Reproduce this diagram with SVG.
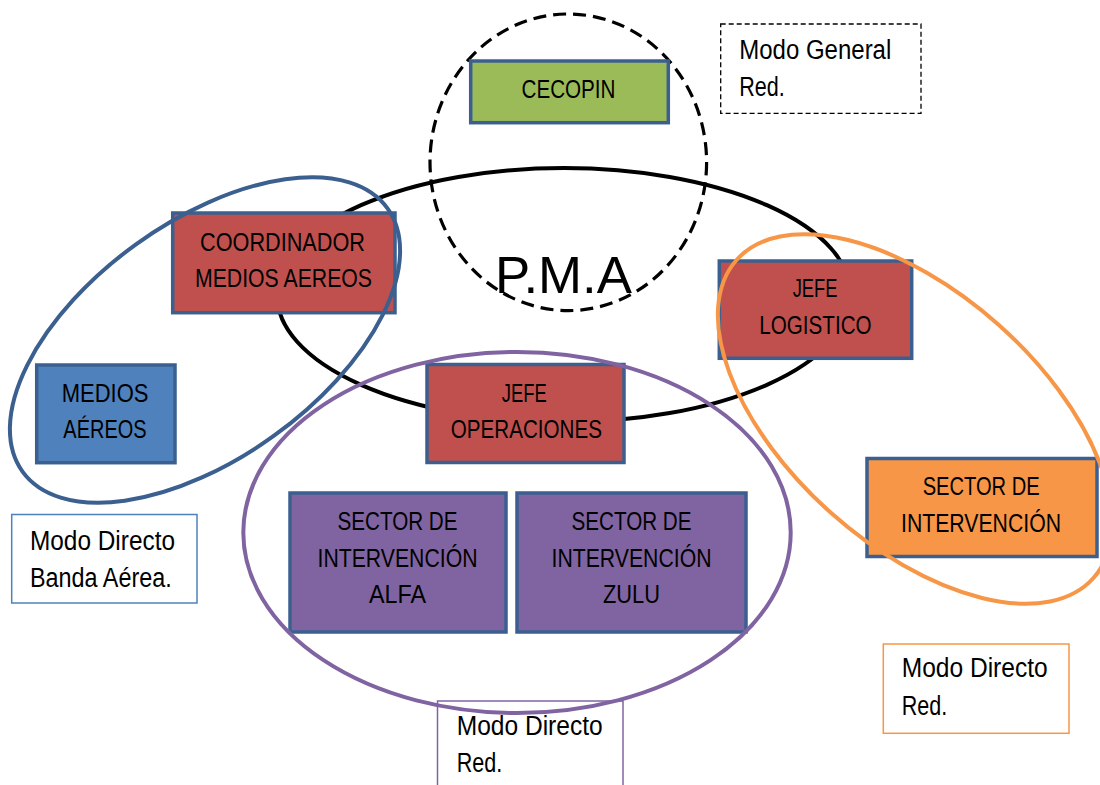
<svg xmlns="http://www.w3.org/2000/svg" width="1100" height="785" viewBox="0 0 1100 785">
<defs>
<style>
.box{stroke:#3b6090;stroke-width:3.5}
.red{fill:#c0504d}.green{fill:#9bbb59}.blue{fill:#4f81bd}.purple{fill:#8064a2}.orange{fill:#f79646}
.t{font-family:"Liberation Sans Narrow","Liberation Sans",Arial,sans-serif;font-size:26px;fill:#000}
.n{font-family:"Liberation Sans Narrow","Liberation Sans",Arial,sans-serif;font-size:27px;fill:#000}
.ring{fill:none;stroke-width:4}
</style>
</defs>
<rect width="1100" height="785" fill="#fff"/>
<g id="connectors">
<ellipse id="pma-ellipse" cx="564" cy="295" rx="287" ry="127" fill="none" stroke="#000" stroke-width="4"/>
<ellipse id="cecopin-circle" cx="568.3" cy="162.3" rx="138.3" ry="148.3" fill="none" stroke="#000" stroke-width="3.2" stroke-dasharray="13 7"/>
</g>
<g id="cecopin"><rect class="box green" x="470.7" y="61" width="197.6" height="61.7"/><text class="t" x="521.5" y="97.5" textLength="94" lengthAdjust="spacingAndGlyphs">CECOPIN</text></g>
<g id="coordinador"><rect class="box red" x="172.7" y="213" width="222.3" height="99.7"/><text class="t" x="200" y="250.7" textLength="165" lengthAdjust="spacingAndGlyphs">COORDINADOR</text><text class="t" x="195" y="287.3" textLength="177" lengthAdjust="spacingAndGlyphs">MEDIOS AEREOS</text></g>
<g id="medios-aereos"><rect class="box blue" x="36.7" y="365" width="138.3" height="97.7"/><text class="t" x="61.7" y="401.7" textLength="86.7" lengthAdjust="spacingAndGlyphs">MEDIOS</text><text class="t" x="63.3" y="438.3" textLength="83.3" lengthAdjust="spacingAndGlyphs">AÉREOS</text></g>
<g id="jefe-logistico"><rect class="box red" x="719.3" y="261" width="192.4" height="97.3"/><text class="t" x="792.7" y="297.3" textLength="44.7" lengthAdjust="spacingAndGlyphs">JEFE</text><text class="t" x="759.3" y="334.3" textLength="112.3" lengthAdjust="spacingAndGlyphs">LOGISTICO</text></g>
<g id="jefe-operaciones"><rect class="box red" x="427" y="364.5" width="197" height="98"/><text class="t" x="501.7" y="401.7" textLength="45" lengthAdjust="spacingAndGlyphs">JEFE</text><text class="t" x="450.7" y="438.3" textLength="151.3" lengthAdjust="spacingAndGlyphs">OPERACIONES</text></g>
<g id="sector-alfa"><rect class="box purple" x="290" y="493" width="216" height="139"/><text class="t" x="337.5" y="530" textLength="120" lengthAdjust="spacingAndGlyphs">SECTOR DE</text><text class="t" x="317.5" y="566.7" textLength="160" lengthAdjust="spacingAndGlyphs">INTERVENCIÓN</text><text class="t" x="369" y="603.3" textLength="57" lengthAdjust="spacingAndGlyphs">ALFA</text></g>
<g id="sector-zulu"><rect class="box purple" x="517" y="493" width="229" height="139"/><text class="t" x="571.5" y="530" textLength="120" lengthAdjust="spacingAndGlyphs">SECTOR DE</text><text class="t" x="551.5" y="566.7" textLength="160" lengthAdjust="spacingAndGlyphs">INTERVENCIÓN</text><text class="t" x="603" y="603.3" textLength="57" lengthAdjust="spacingAndGlyphs">ZULU</text></g>
<g id="sector-intervencion"><rect class="box orange" x="867" y="458.5" width="230" height="98"/><text class="t" x="922.7" y="494.5" textLength="117" lengthAdjust="spacingAndGlyphs">SECTOR DE</text><text class="t" x="901" y="531.7" textLength="160" lengthAdjust="spacingAndGlyphs">INTERVENCIÓN</text></g>
<g id="note-general"><rect x="720.7" y="24" width="200.3" height="89.3" fill="#fff" stroke="#000" stroke-width="1.3" stroke-dasharray="5 3"/><text class="n" x="739.3" y="59" textLength="152" lengthAdjust="spacingAndGlyphs">Modo General</text><text class="n" x="739.3" y="95.7" textLength="45.5" lengthAdjust="spacingAndGlyphs">Red.</text></g>
<g id="note-aerea"><rect x="11.7" y="514.5" width="185.3" height="88.5" fill="#fff" stroke="#4f81bd" stroke-width="1.5"/><text class="n" x="30" y="550" textLength="145" lengthAdjust="spacingAndGlyphs">Modo Directo</text><text class="n" x="30" y="586.7" textLength="141.7" lengthAdjust="spacingAndGlyphs">Banda Aérea.</text></g>
<g id="note-orange"><rect x="883.3" y="644" width="185.7" height="89.3" fill="#fff" stroke="#f79646" stroke-width="1.5"/><text class="n" x="901.7" y="677.3" textLength="146" lengthAdjust="spacingAndGlyphs">Modo Directo</text><text class="n" x="901.7" y="715" textLength="45.5" lengthAdjust="spacingAndGlyphs">Red.</text></g>
<g id="note-purple"><rect x="437.5" y="701" width="185.5" height="100" fill="#fff" stroke="#8064a2" stroke-width="1.5"/><text class="n" x="456.7" y="735" textLength="146" lengthAdjust="spacingAndGlyphs">Modo Directo</text><text class="n" x="456.7" y="771.7" textLength="45.5" lengthAdjust="spacingAndGlyphs">Red.</text></g>
<g id="groups">
<ellipse id="blue-group" class="ring" cx="205" cy="340" rx="225" ry="118" transform="rotate(-35.8 205 340)" stroke="#3b6090"/>
<ellipse id="orange-group" class="ring" cx="915" cy="419" rx="239" ry="126" transform="rotate(41.7 915 419)" stroke="#f79646"/>
<ellipse id="purple-group" class="ring" cx="517" cy="532.5" rx="273.7" ry="180.5" stroke="#8064a2"/>
</g>
<g id="pma"><text x="495" y="292.7" font-family="'Liberation Sans Narrow','Liberation Sans',Arial,sans-serif" font-size="52.6" textLength="137" lengthAdjust="spacingAndGlyphs" fill="#000">P.M.A</text></g>
</svg>
